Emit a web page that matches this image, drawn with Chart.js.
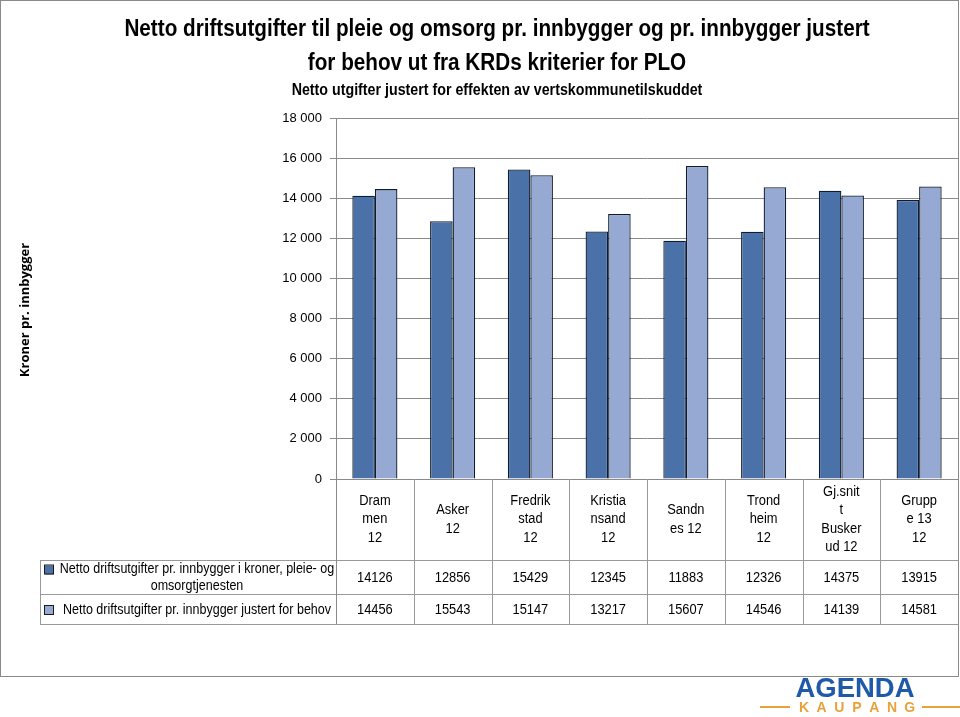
<!DOCTYPE html>
<html>
<head>
<meta charset="utf-8">
<script src="https://cdn.jsdelivr.net/npm/chart.js@4"></script>
<style>
  body { margin: 0; background: #fff; }
  #wrap { width: 960px; height: 717px; }
</style>
</head>
<body>
<div id="wrap"><canvas id="grafikk" width="960" height="717"></canvas></div>
<script>
// data
var kategorier = ['Drammen 12', 'Asker 12', 'Fredrikstad 12', 'Kristiansand 12', 'Sandnes 12', 'Trondheim 12', 'Gj.snitt Buskerud 12', 'Gruppe 13 12'];
var kategoriLinjer = [['Dram', 'men', '12'], ['Asker', '12'], ['Fredrik', 'stad', '12'], ['Kristia', 'nsand', '12'], ['Sandn', 'es 12'], ['Trond', 'heim', '12'], ['Gj.snit', 't', 'Busker', 'ud 12'], ['Grupp', 'e 13', '12']];
var nettoKroner = [14126, 12856, 15429, 12345, 11883, 12326, 14375, 13915];
var nettoJustert = [14456, 15543, 15147, 13217, 15607, 14546, 14139, 14581];
var serieNavn = ['Netto driftsutgifter pr. innbygger i kroner, pleie- og omsorgtjenesten', 'Netto driftsutgifter pr. innbygger justert for behov'];
var serieLinjer = [['Netto driftsutgifter pr. innbygger i kroner, pleie- og', 'omsorgtjenesten'], ['Netto driftsutgifter pr. innbygger justert for behov']];
var yTicks = [0, 2000, 4000, 6000, 8000, 10000, 12000, 14000, 16000, 18000];
var tittel = ['Netto driftsutgifter til pleie og omsorg pr. innbygger og pr. innbygger justert', 'for behov ut fra KRDs kriterier for PLO'];
var undertittel = 'Netto utgifter justert for effekten av vertskommunetilskuddet';

var farger = ['#4A72A8', '#95A9D3'];
var skrift = '"Liberation Sans", Arial, sans-serif';
var strek = '#9a9a9a';

// text drawn a little condensed, close to Calibri
function smalTekst(ctx, tekst, x, y, faktor) {
    ctx.save();
    ctx.translate(x, y);
    ctx.scale(faktor, 1);
    ctx.fillText(tekst, 0, 0);
    ctx.restore();
}

// titles, data table, axis title, frame and logo
var tabellPlugin = {
    id: 'tabell',
    afterDraw: function (chart) {
        var ctx = chart.ctx;
        var xs = chart.scales.x;
        var area = chart.chartArea;
        var venstre = 40;
        var hoyre = area.right;
        var katBunn = 560, rad1Bunn = 594, rad2Bunn = 624;
        var bredde = (area.right - area.left) / kategorier.length;
        ctx.save();
        ctx.fillStyle = '#000';
        ctx.textAlign = 'center';
        ctx.textBaseline = 'middle';
        // titles
        ctx.font = 'bold 23px ' + skrift;
        smalTekst(ctx, tittel[0], 497, 30, 0.9);
        smalTekst(ctx, tittel[1], 497, 64, 0.9);
        ctx.font = 'bold 16px ' + skrift;
        smalTekst(ctx, undertittel, 497, 91, 0.89);

        ctx.strokeStyle = strek;
        ctx.lineWidth = 1;
        // horizontal lines
        [katBunn, rad1Bunn, rad2Bunn].forEach(function (y) {
            ctx.beginPath();
            ctx.moveTo(venstre, y + 0.5);
            ctx.lineTo(hoyre, y + 0.5);
            ctx.stroke();
        });
        ctx.beginPath();
        ctx.moveTo(venstre + 0.5, katBunn);
        ctx.lineTo(venstre + 0.5, rad2Bunn);
        ctx.stroke();
        for (var i = 1; i <= kategorier.length; i++) {
            var x = Math.round(area.left + i * bredde) + 0.5;
            ctx.beginPath();
            ctx.moveTo(x, area.bottom);
            ctx.lineTo(x, rad2Bunn);
            ctx.stroke();
        }
        ctx.strokeStyle = '#8a8a8a';
        ctx.beginPath();
        ctx.moveTo(Math.round(area.left) + 0.5, area.bottom);
        ctx.lineTo(Math.round(area.left) + 0.5, rad2Bunn);
        ctx.stroke();

        ctx.font = '14px ' + skrift;
        kategoriLinjer.forEach(function (linjer, i) {
            var cx = xs.getPixelForValue(i);
            var midt = (area.bottom + katBunn) / 2;
            var start = midt - (linjer.length - 1) * 18.5 / 2;
            linjer.forEach(function (t, j) {
                smalTekst(ctx, t, cx, start + j * 18.5, 0.92);
            });
            smalTekst(ctx, String(nettoKroner[i]), cx, (katBunn + rad1Bunn) / 2 + 1, 0.92);
            smalTekst(ctx, String(nettoJustert[i]), cx, (rad1Bunn + rad2Bunn) / 2 + 1, 0.92);
        });
        // legend keys in the table
        var rader = [[katBunn, rad1Bunn], [rad1Bunn, rad2Bunn]];
        serieLinjer.forEach(function (linjer, s) {
            var y0 = rader[s][0], y1 = rader[s][1];
            var midt = (y0 + y1) / 2;
            var start = midt - (linjer.length - 1) * 17 / 2;
            ctx.fillStyle = farger[s];
            ctx.fillRect(45, start - 3, 9, 9);
            ctx.strokeStyle = '#1a1a1a';
            ctx.strokeRect(44.5, start - 3.5, 9, 9);
            ctx.fillStyle = '#000';
            linjer.forEach(function (t, j) {
                smalTekst(ctx, t, (58 + area.left) / 2, start + j * 17 + 1, 0.895);
            });
        });
        // y axis title
        ctx.save();
        ctx.translate(25, 310);
        ctx.rotate(-Math.PI / 2);
        ctx.font = 'bold 13px "Open Sans", sans-serif';
        ctx.fillText('Kroner pr. innbygger', 0, 0);
        ctx.restore();
        // frame
        ctx.strokeStyle = '#8a8a8a';
        ctx.strokeRect(0.5, 0.5, 958, 676);
        // logo
        ctx.fillStyle = '#1E5AA8';
        ctx.font = 'bold 28px ' + skrift;
        smalTekst(ctx, 'AGENDA', 855, 689, 0.98);
        ctx.fillStyle = '#E9A23B';
        ctx.font = 'bold 14px ' + skrift;
        'KAUPANG'.split('').forEach(function (b, k) {
            ctx.fillText(b, 804 + k * 17.6, 708);
        });
        ctx.fillRect(760, 706, 30, 2);
        ctx.fillRect(922, 706, 38, 2);
        ctx.restore();
    }
};

var ctx = document.getElementById('grafikk').getContext('2d');
var grafikk = new Chart(ctx, {
    type: 'bar',
    data: {
        labels: kategorier,
        datasets: [{
            label: serieNavn[0],
            data: nettoKroner,
            backgroundColor: farger[0],
            borderColor: '#0f1b2e',
            borderWidth: 1.3
        }, {
            label: serieNavn[1],
            data: nettoJustert,
            backgroundColor: farger[1],
            borderColor: '#0f1b2e',
            borderWidth: 1.3
        }]
    },
    options: {
        responsive: false,
        animation: false,
        layout: { padding: { left: 34, right: 2, top: 118, bottom: 0 } },
        datasets: { bar: { categoryPercentage: 0.58, barPercentage: 1.0 } },
        plugins: {
            legend: { display: false },
            tooltip: { enabled: false },
            title: { display: false }
        },
        scales: {
            x: {
                ticks: { display: false },
                grid: { display: false },
                border: { color: '#8a8a8a' },
                afterFit: function (s) { s.height = 717 - 479; }
            },
            y: {
                min: 0,
                max: 18000,
                afterBuildTicks: function (s) {
                    s.ticks = yTicks.map(function (v) { return { value: v }; });
                },
                ticks: {
                    color: '#000',
                    padding: 8,
                    font: { family: skrift, size: 13 },
                    callback: function (v) {
                        return String(v).replace(/\B(?=(\d{3})+(?!\d))/g, ' ');
                    }
                },
                grid: { color: '#8a8a8a', tickLength: 6 },
                border: { color: '#8a8a8a' },
                afterFit: function (s) { s.width = 302; }
            }
        }
    },
    plugins: [tabellPlugin]
});
</script>
</body>
</html>
